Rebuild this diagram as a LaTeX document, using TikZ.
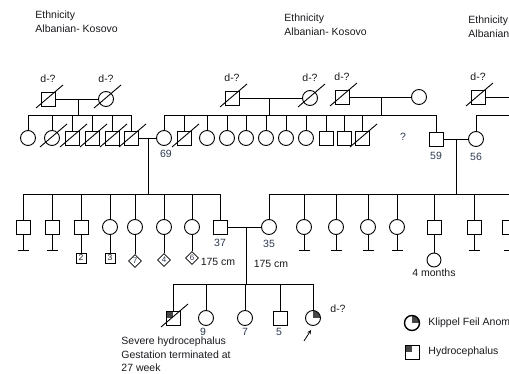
\documentclass[tikz,border=0pt]{standalone}
\usepackage{fontspec}
\setmainfont{Liberation Sans}
\usetikzlibrary{positioning,shapes.geometric,arrows.meta}

\definecolor{testo}{RGB}{25,25,30}
\definecolor{numero}{RGB}{45,57,80}
\definecolor{pieno}{RGB}{70,70,70}

\tikzset{
  maschio/.style={draw, rectangle, minimum size=14pt, inner sep=0pt},
  femmina/.style={draw, circle, minimum size=15pt, inner sep=0pt},
  piccolo/.style={draw, rectangle, minimum size=10pt, inner sep=0pt, line width=0.7pt,
    font=\fontsize{8.5}{8.5}\selectfont, text=testo},
  rombo/.style={draw, diamond, minimum size=13pt, inner sep=0pt, line width=0.7pt,
    font=\fontsize{8}{8}\selectfont, text=numero},
  idro/.style={path picture={\fill[pieno] (path picture bounding box.north west)
    rectangle (path picture bounding box.center);}},
  kfa/.style={path picture={\fill[pieno] (path picture bounding box.center)
    rectangle (path picture bounding box.north east);}},
  etichetta/.style={inner sep=0pt, text=testo, font=\fontsize{10.5}{13.5}\selectfont},
  eta/.style={inner sep=0pt, text=numero, font=\fontsize{10.5}{12}\selectfont},
}

\begin{document}
\begin{tikzpicture}[>=stealth, x=1pt, y=-1pt, line width=0.9pt]
    \useasboundingbox (0,0) rectangle (509,374);
    \clip (0,0) rectangle (509,374);

    % Etnia
    \node[etichetta, align=left, anchor=west] (etnA) at (35,22) {Ethnicity\\Albanian- Kosovo};
    \node[etichetta, align=left, anchor=west] (etnB) at (284,24.5) {Ethnicity\\Albanian- Kosovo};
    \node[etichetta, align=left, anchor=west] (etnC) at (468,27) {Ethnicity\\Albanian};

    % Generazione I
    \node[maschio] (I1) at (48,99) {};
    \node[femmina] (I2) at (106,99) {};
    \node[maschio] (I3) at (232,98) {};
    \node[femmina] (I4) at (310,98) {};
    \node[maschio] (I5) at (342,97) {};
    \node[femmina] (I6) at (419,97) {};
    \node[maschio] (I7) at (478,97) {};
    \foreach \n in {I1,I2,I3,I4,I5,I7}
        \node[etichetta, above=8pt of \n] (d\n) {d-?};

    \coordinate (sA) at (0,115);
    \coordinate (mA) at (78,99);
    \coordinate (mB) at (269,98);
    \coordinate (mC) at (381,97);
    \coordinate (bordoA) at (509,97);
    \coordinate (bordoB) at (509,115);
    \draw (I1) -- (I2);
    \draw (I3) -- (I4);
    \draw (I5) -- (I6);
    \draw (I7) -- (bordoA);
    \foreach \m in {mA,mB,mC}
        \draw (\m) -- (\m |- sA);

    % Generazione II
    \foreach \n/\x in {1/28, 2/52, 7/164, 9/207, 10/227, 11/246, 12/266, 13/286, 14/306}
        \node[femmina] (II\n) at (\x,138) {};
    \foreach \n/\x in {3/72, 4/92, 5/112, 6/131, 8/184, 15/326, 16/344, 17/362}
        \node[maschio] (II\n) at (\x,138) {};
    \node[maschio] (II18) at (436,139) {};
    \node[femmina] (II19) at (476,139) {};

    \draw (II1 |- sA) -- (II6 |- sA);
    \draw (II7 |- sA) -- (II16 |- sA);
    \draw (II16 |- sA) -- (II18 |- sA);
    \foreach \n in {1,...,18}
        \draw (II\n.north) -- (II\n |- sA);
    \draw (II19.north) -- (II19 |- bordoB) -- (bordoB);

    \node[eta, below=4pt of II7, xshift=2pt] (a69) {69};
    \node[eta] (ignoto) at (403,137) {?};
    \node[eta, below=5pt of II18] (a59) {59};
    \node[eta, below=6pt of II19] (a56) {56};

    \coordinate (sB) at (0,194);
    \coordinate (mD) at (148,138);
    \coordinate (mE) at (456,139);
    \draw (II6) -- (II7);
    \draw (II18) -- (II19);
    \foreach \m in {mD,mE}
        \draw (\m) -- (\m |- sB);

    % Generazione III
    \foreach \n/\x in {1/23, 2/52, 3/81, 8/220, 14/434, 15/474, 16/509}
        \node[maschio] (III\n) at (\x,227) {};
    \foreach \n/\x in {4/110, 5/135, 6/164, 7/192, 9/269, 10/304, 11/336, 12/368, 13/397}
        \node[femmina] (III\n) at (\x,227) {};

    \draw (III1 |- sB) -- (III8 |- sB);
    \draw (III9 |- sB) -- (III16 |- sB);
    \foreach \n in {1,...,16}
        \draw (III\n.north) -- (III\n |- sB);

    % Senza figli
    \coordinate (nfA) at (0,250.5);
    \foreach \n in {III1,III2,III10,III11,III12,III13,III15,III16} {
        \draw (\n.south) -- (\n |- nfA);
        \draw ([xshift=-5.5pt]\n |- nfA) -- ([xshift=5.5pt]\n |- nfA);
    }

    % Figli della generazione IV (gruppi)
    \node[piccolo] (s1) at (81,258) {2};
    \node[piccolo] (s2) at (110,258) {3};
    \node[rombo] (s3) at (135,261) {7};
    \node[rombo] (s4) at (164,260) {4};
    \node[rombo] (s5) at (192,258) {6};
    \node[femmina, minimum size=14pt] (s6) at (434,260) {};
    \foreach \a/\b in {III3/s1, III4/s2, III5/s3, III6/s4, III7/s5, III14/s6}
        \draw (\a.south) -- (\b.north);

    \node[eta, below=4pt of III8] (a37) {37};
    \node[eta, below=5pt of III9] (a35) {35};
    \node[etichetta] (h1) at (218,262) {175 cm};
    \node[etichetta] (h2) at (271,264) {175 cm};
    \node[etichetta, below=1pt of s6] (a4m) {4 months};

    \coordinate (sC) at (0,284);
    \coordinate (mF) at (246,227);
    \draw (III8) -- (III9);
    \draw (mF) -- (mF |- sC);

    % Generazione IV
    \node[maschio, idro] (IV1) at (173,318) {};
    \node[femmina] (IV2) at (206,318) {};
    \node[femmina] (IV3) at (245,318) {};
    \node[maschio] (IV4) at (280,318) {};
    \node[femmina, kfa] (IV5) at (313,318) {};
    \draw (IV1 |- sC) -- (IV5 |- sC);
    \foreach \n in {1,...,5}
        \draw (IV\n.north) -- (IV\n |- sC);

    \node[eta, below=2pt of IV2, xshift=-3pt] (a9) {9};
    \node[eta, below=2pt of IV3] (a7) {7};
    \node[eta, below=2pt of IV4, xshift=-1pt] (a5) {5};
    \node[etichetta] (dIV5) at (338,309) {d-?};

    % Probando
    \coordinate (pA) at (304,341);
    \coordinate (pB) at (311,330);
    \draw[->, line width=0.8pt] (pA) -- (pB);

    \node[etichetta, align=left, anchor=west] (nota) at (121,354.5)
        {Severe hydrocephalus\\Gestation terminated at\\27 week};

    % Deceduti
    \foreach \n in {I1,I2,I3,I4,I5,I7,II2,II3,II4,II5,II6,II8,II17,IV1}
        \draw ([shift={(-12,9)}]\n.center) -- ([shift={(15,-14)}]\n.center);

    % Legenda
    \node[femmina, kfa, line width=1.4pt] (L1) at (412,323) {};
    \node[etichetta, anchor=west] (t1) at (428,323) {Klippel Feil Anom};
    \node[maschio, idro] (L2) at (412,352) {};
    \node[etichetta, anchor=west] (t2) at (428,352) {Hydrocephalus};
\end{tikzpicture}
\end{document}
